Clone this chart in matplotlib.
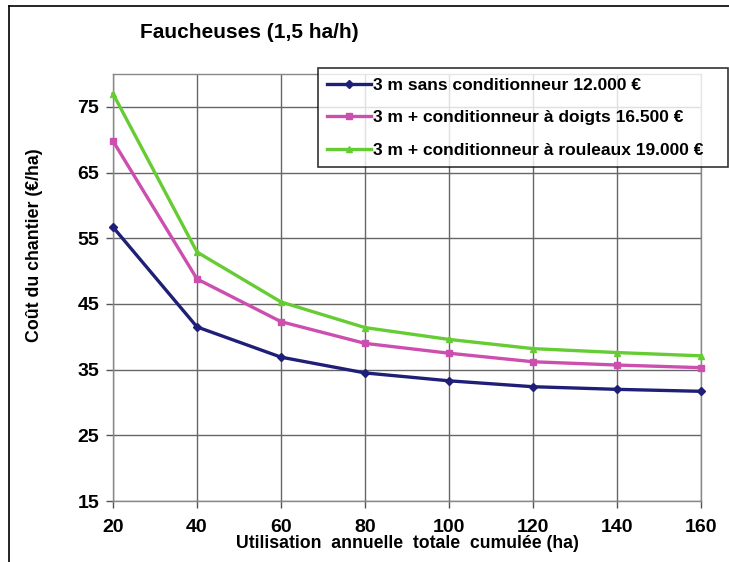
import matplotlib.pyplot as plt
from matplotlib.lines import Line2D

# data
surface_ha = [20, 40, 60, 80, 100, 120, 140, 160]
cout_sans_cond = [56.7, 41.5, 36.9, 34.5, 33.3, 32.4, 32.0, 31.7]
cout_doigts = [69.8, 48.8, 42.3, 39.0, 37.5, 36.2, 35.7, 35.3]
cout_rouleaux = [77.0, 52.9, 45.3, 41.4, 39.6, 38.2, 37.6, 37.1]

series_labels = [
    "3 m sans conditionneur 12.000 \u20ac",
    "3 m + conditionneur \u00e0 doigts 16.500 \u20ac",
    "3 m + conditionneur \u00e0 rouleaux 19.000 \u20ac",
]
y_ticks = [15, 25, 35, 45, 55, 65, 75]

plt.rcParams["font.family"] = ["Liberation Sans", "DejaVu Sans"]

fig = plt.figure(figsize=(7.29, 5.62), dpi=100)
ax = fig.add_axes([0.155, 0.1085, 0.8066, 0.7598])

colors = ["#1f1f78", "#cc4fb0", "#66cc33"]
markers = ["D", "s", "^"]
for values, col, mk, lab in zip([cout_sans_cond, cout_doigts, cout_rouleaux],
                                colors, markers, series_labels):
    ax.plot(surface_ha, values, color=col, lw=2.4, marker=mk, ms=4,
            label=lab, zorder=3, clip_on=False)

ax.set_xlim(20, 160)
ax.set_ylim(15, 80)
ax.set_xticks(surface_ha)
ax.set_yticks(y_ticks)
ax.grid(True, color="#666666", lw=1)
ax.set_axisbelow(True)
for s in ax.spines.values():
    s.set_color("#888888")
    s.set_linewidth(1)
ax.tick_params(length=5, width=1, color="#555555", labelsize=14, pad=5)
ax.tick_params(axis="x", pad=8)
for t in ax.get_xticklabels() + ax.get_yticklabels():
    t.set_fontweight("bold")

ax.set_xlabel("Utilisation  annuelle  totale  cumul\u00e9e (ha)",
              fontsize=12.7, fontweight="bold", labelpad=-1)
ax.set_ylabel("Co\u00fbt du chantier (\u20ac/ha)", fontsize=12.8,
              fontweight="bold")
ax.yaxis.set_label_coords(-0.119, 0.60)

fig.text(0.192, 0.943, "Faucheuses (1,5 ha/h)", fontsize=15,
         fontweight="bold", va="center")

leg = fig.legend(loc="upper left", bbox_to_anchor=(0.436, 0.703, 0.562, 0.176),
                 mode="expand", prop={"weight": "bold", "size": 12.5},
                 frameon=True, fancybox=False, borderaxespad=0, handlelength=2.5,
                 handletextpad=0.15, labelspacing=1.0, borderpad=0.55)
leg.get_frame().set_edgecolor("black")
leg.get_frame().set_linewidth(1.2)

# thin frame lines at the left and top of the figure
fig.add_artist(Line2D([0.012, 0.012], [0, 0.989], color="black", lw=1.2))
fig.add_artist(Line2D([0.012, 1.0], [0.989, 0.989], color="black", lw=1.2))

fig.savefig("out.png", dpi=100)
